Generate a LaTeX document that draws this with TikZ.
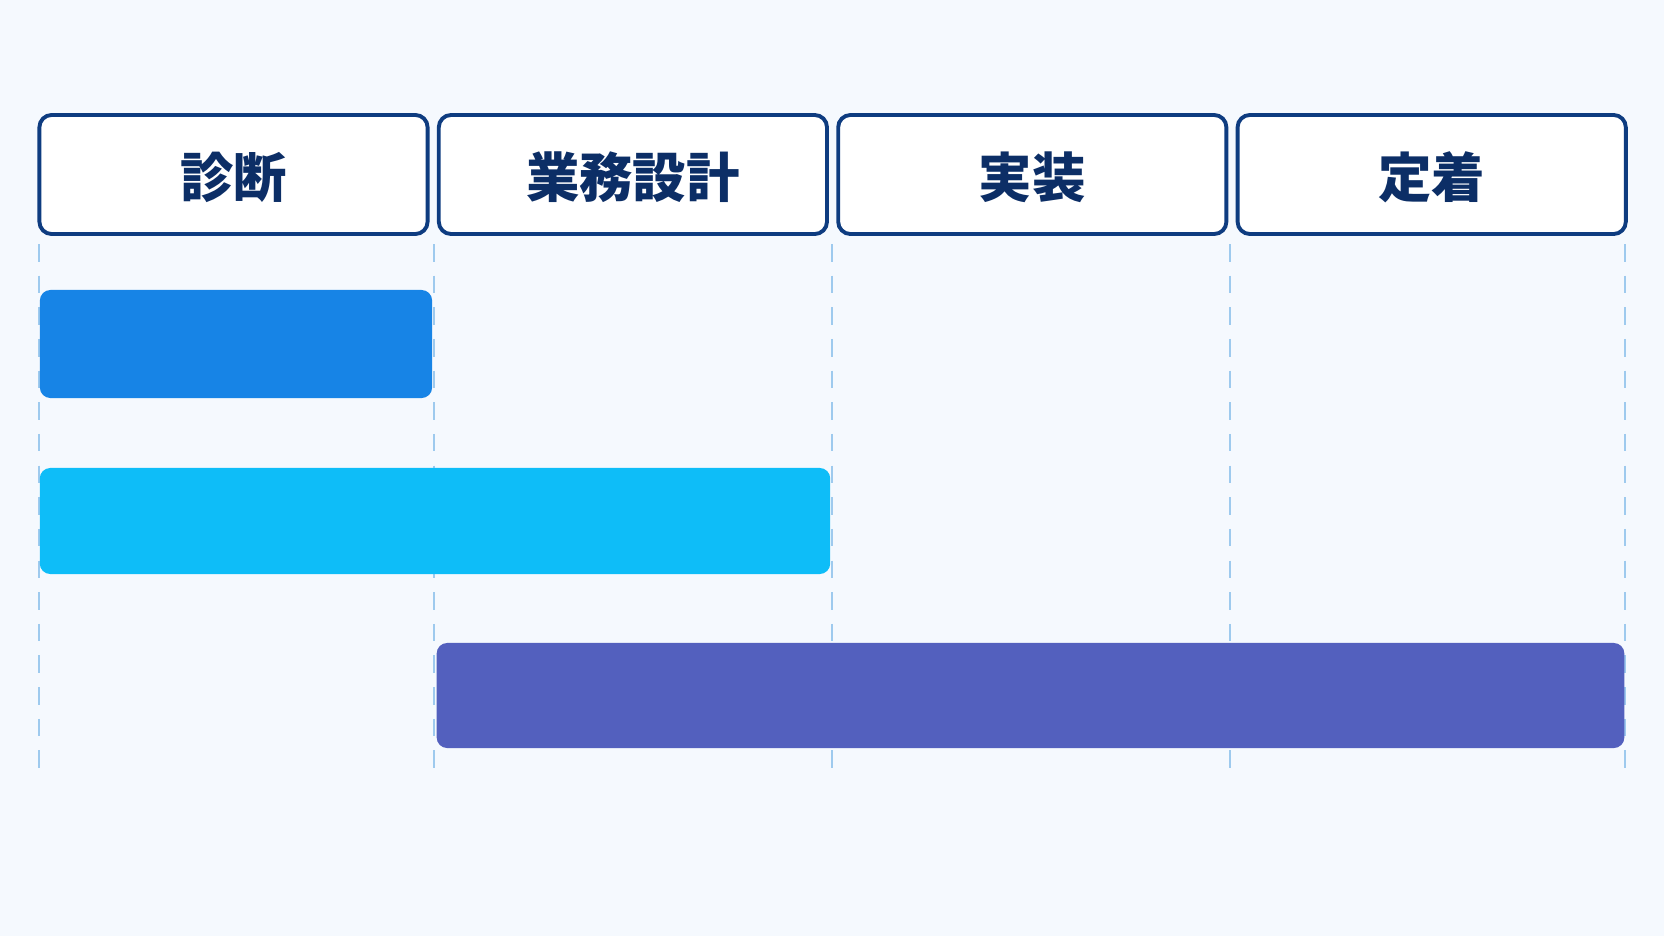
\documentclass[tikz,border=0pt]{standalone}
\usepackage{fontspec}
\newfontfamily\jp{Noto Sans CJK JP}
\usetikzlibrary{positioning}
\definecolor{bgpale}{RGB}{245,249,254}
\definecolor{navy}{RGB}{14,60,128}
\definecolor{navytext}{RGB}{12,46,102}
\definecolor{gridblue}{RGB}{158,202,238}
\definecolor{barone}{RGB}{23,132,230}
\definecolor{bartwo}{RGB}{14,189,248}
\definecolor{barthree}{RGB}{83,96,190}
\newcommand{\phasetext}[1]{\raisebox{-6.6pt}[0pt][0pt]{#1}}
\tikzset{
	phase/.style={draw=navy, line width=1.1pt, fill=white, rounded corners=3.5pt,
		minimum width=3.88cm, minimum height=1.19cm, inner sep=0pt,
		font=\jp\bfseries\fontsize{15.2}{18}\selectfont, text=navytext},
	bar/.style={rounded corners=3pt, inner sep=0pt},
	gridline/.style={gridblue, line width=0.8pt, dash pattern=on 5pt off 4pt}
}

\begin{document}
\begin{tikzpicture}[x=0.01cm, y=-0.01cm]
					\fill[bgpale] (0,0) rectangle (1664,936);
					\useasboundingbox (0,0) rectangle (1664,936);

					% Phases
					\node[phase] (diag) at (233.5,174.5) {\phasetext{診断}};
					\node[phase, right=0.073cm of diag] (design) {\phasetext{業務設計}};
					\node[phase, right=0.073cm of design] (build) {\phasetext{実装}};
					\node[phase, right=0.073cm of build] (settle) {\phasetext{定着}};

					% Grid lines
					\coordinate (g0t) at (39,244);   \coordinate (g0b) at (39,769);
					\coordinate (g1t) at (434,244);  \coordinate (g1b) at (434,769);
					\coordinate (g2t) at (832,244);  \coordinate (g2b) at (832,769);
					\coordinate (g3t) at (1230,244); \coordinate (g3b) at (1230,769);
					\coordinate (g4t) at (1625,244); \coordinate (g4b) at (1625,769);
					\draw[gridline] (g0t) -- (g0b);
					\draw[gridline] (g1t) -- (g1b);
					\draw[gridline] (g2t) -- (g2b);
					\draw[gridline] (g3t) -- (g3b);
					\draw[gridline] (g4t) -- (g4b);

					% Bars
					\node[bar, fill=barone, minimum width=3.92cm, minimum height=1.08cm] (barA) at (236,344) {};
					\node[bar, fill=bartwo, minimum width=7.90cm, minimum height=1.06cm] (barB) at (435,521) {};
					\node[bar, fill=barthree, minimum width=11.87cm, minimum height=1.05cm] (barC) at (1030.5,695.5) {};
				\end{tikzpicture}
\end{document}
